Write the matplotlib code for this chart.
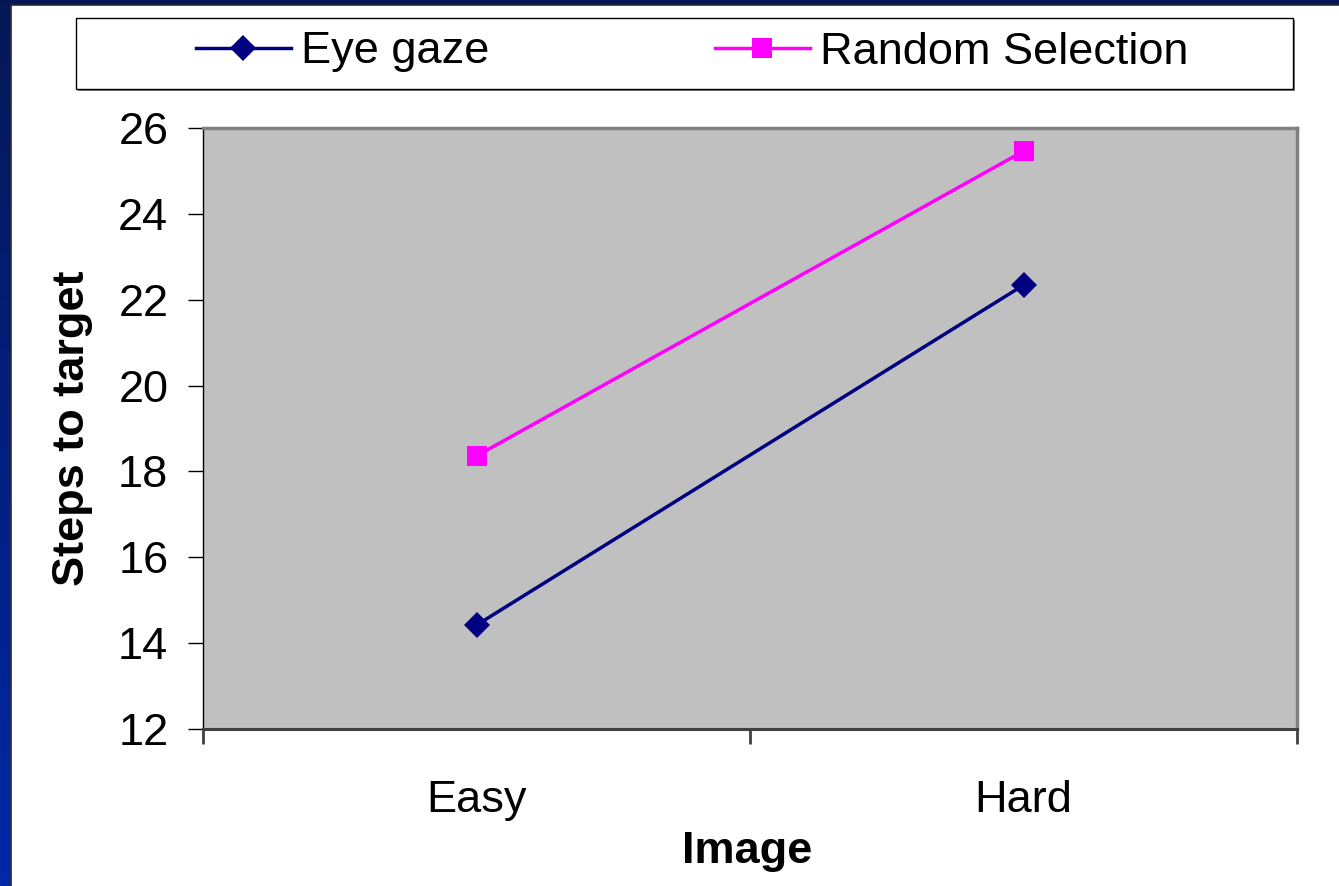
import numpy as np
import matplotlib
matplotlib.use("Agg")
import matplotlib.pyplot as plt
from matplotlib.patches import Rectangle

plt.rcParams['font.family'] = ['Liberation Sans', 'DejaVu Sans']

categories = ["Easy", "Hard"]
eye_gaze = [14.42, 22.34]
random_selection = [18.36, 25.46]
y_ticks = [12, 14, 16, 18, 20, 22, 24, 26]

W, H = 1339, 886
fig = plt.figure(figsize=(W / 100, H / 100), dpi=100)
fig.patch.set_facecolor("white")

# slide-style blue frame on the left and top edges
bg = fig.add_axes([0, 0, 1, 1], zorder=-10)
grad = np.linspace(0, 1, 256)[:, None]
top_col = np.array([0.02, 0.09, 0.33])
bot_col = np.array([0.0, 0.16, 0.66])
img = top_col[None, None, :] * (1 - grad[:, :, None]) + bot_col[None, None, :] * grad[:, :, None]
bg.imshow(img, aspect="auto", extent=[0, W, 0, H], origin="upper")
bg.add_patch(Rectangle((11, 0), W - 11, H - 5, facecolor="white", edgecolor="none"))
bg.plot([10.5, 10.5], [0, H - 4.5], color="#2a2a3a", lw=1.2)
bg.plot([10.5, W], [H - 4.5, H - 4.5], color="#2a2a3a", lw=1.2)
bg.set_xlim(0, W)
bg.set_ylim(0, H)
bg.axis("off")

# plot area
left, right, top, bottom = 203, 1297, 128, 729
ax = fig.add_axes([left / W, (H - bottom) / H, (right - left) / W, (bottom - top) / H])
ax.set_facecolor("#c0c0c0")

x = np.arange(len(categories))
l1, = ax.plot(x, eye_gaze, color="#000080", lw=2.5, marker="D", ms=13.5,
              markeredgewidth=0, label="Eye gaze", clip_on=False)
l2, = ax.plot(x, random_selection, color="#ff00ff", lw=2.5, marker="s", ms=15,
              markeredgewidth=0, label="Random Selection", clip_on=False)

ax.set_xlim(-0.5, len(categories) - 0.5)
ax.set_ylim(y_ticks[0], y_ticks[-1])
ax.set_yticks(y_ticks)
ax.set_xticks(np.arange(-0.5, len(categories), 1.0))
ax.set_xticklabels([])
ax.set_xticks(x, minor=True)
ax.set_xticklabels(categories, minor=True)

ax.tick_params(axis="y", direction="out", length=11, width=1, color="black",
               labelsize=32.5, pad=14)
ax.tick_params(axis="x", which="major", direction="out", length=11, width=2, color="#404040")
ax.tick_params(axis="x", which="minor", length=0, labelsize=32.5, pad=36.5)

ax.spines["left"].set_color("black")
ax.spines["left"].set_linewidth(1)
ax.spines["bottom"].set_color("#404040")
ax.spines["bottom"].set_linewidth(2.2)
for s in ("top", "right"):
    ax.spines[s].set_color("#808080")
    ax.spines[s].set_linewidth(2.5)

ax.set_ylabel("Steps to target", fontsize=32.5, fontweight="bold")
ax.set_xlabel("Image", fontsize=32.5, fontweight="bold")
ax.yaxis.set_label_coords(-0.101, 0.5)
ax.xaxis.set_label_coords(0.497, -0.17)

# legend frame with a drop shadow
bx0, bx1, by0, by1 = 76, 1293, 18, 89
fig.patches.append(Rectangle(((bx0 + 2) / W, (H - by1 - 2) / H), (bx1 - bx0) / W, (by1 - by0) / H,
                             transform=fig.transFigure, facecolor="#808080", edgecolor="none", zorder=1))
fig.patches.append(Rectangle((bx0 / W, (H - by1) / H), (bx1 - bx0) / W, (by1 - by0) / H,
                             transform=fig.transFigure, facecolor="white", edgecolor="black",
                             lw=1, zorder=2))
leg = fig.legend(handles=[l1, l2], loc="center", bbox_to_anchor=(692 / W, (H - 52) / H),
                 ncol=2, frameon=False, fontsize=32.5, handlelength=2.1,
                 handletextpad=0.22, columnspacing=5.0, borderpad=0, markerscale=0.95)
leg.set_zorder(3)

fig.savefig("out.png", dpi=100)
